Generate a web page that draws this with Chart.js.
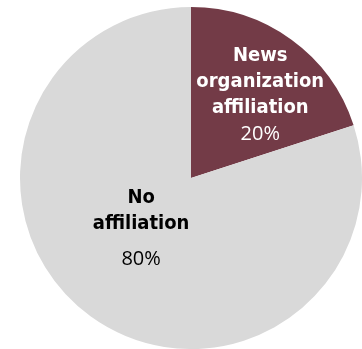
<!DOCTYPE html>
<html lang="en">
<head>
    <meta charset="UTF-8">
    <title>News organization affiliation</title>
    <script src="https://cdn.jsdelivr.net/npm/chart.js"></script>
    <style>
        html, body {
            margin: 0;
            padding: 0;
            background: #fff;
        }
    </style>
</head>
<body>
    <canvas id="myChart" width="362" height="349"></canvas>

    <script>
        // Datos del grafico
        const categorias = ['News organization affiliation', 'No affiliation'];
        const etiquetas = [['News', 'organization', 'affiliation'], ['No', 'affiliation']];
        const valores = [20, 80];
        const colores = ['#733b47', '#d9d9d9'];
        const coloresTexto = ['#ffffff', '#000000'];
        // distancia relativa del texto al centro, giro y ajuste vertical
        const distTexto = [0.63, 0.42];
        const giroTexto = [0.07, 0.14];
        const ajusteY = [0, -5];

        const etiquetasPlugin = {
            id: 'etiquetas',
            afterDatasetsDraw(chart) {
                const ctx = chart.ctx;
                const meta = chart.getDatasetMeta(0);
                meta.data.forEach((arc, i) => {
                    const mid = (arc.startAngle + arc.endAngle) / 2 + giroTexto[i];
                    const r = arc.outerRadius * distTexto[i];
                    const cx = arc.x + Math.cos(mid) * r;
                    const cy = arc.y + Math.sin(mid) * r + ajusteY[i];
                    const lineas = etiquetas[i];
                    const alto = 26;
                    const total = lineas.length * alto + 28;
                    let y = cy - total / 2 + alto / 2;
                    ctx.save();
                    ctx.fillStyle = coloresTexto[i];
                    ctx.textAlign = 'center';
                    ctx.textBaseline = 'middle';
                    ctx.font = 'bold 20px "DejaVu Sans Condensed", "DejaVu Sans", sans-serif';
                    lineas.forEach(l => {
                        ctx.fillText(l, cx, y);
                        y += alto;
                    });
                    ctx.font = '20px "Open Sans", "Liberation Sans", sans-serif';
                    ctx.fillText(valores[i] + '%', cx, y + (i === 1 ? 10 : 1));
                    ctx.restore();
                });
            }
        };

        new Chart(document.getElementById('myChart'), {
            type: 'pie',
            data: {
                labels: categorias,
                datasets: [{
                    data: valores,
                    backgroundColor: colores,
                    borderWidth: 0
                }]
            },
            options: {
                responsive: false,
                animation: false,
                layout: {
                    padding: { top: 7, bottom: 0, left: 20, right: 0 }
                },
                plugins: {
                    legend: { display: false },
                    tooltip: { enabled: false }
                }
            },
            plugins: [etiquetasPlugin]
        });
    </script>
</body>
</html>
